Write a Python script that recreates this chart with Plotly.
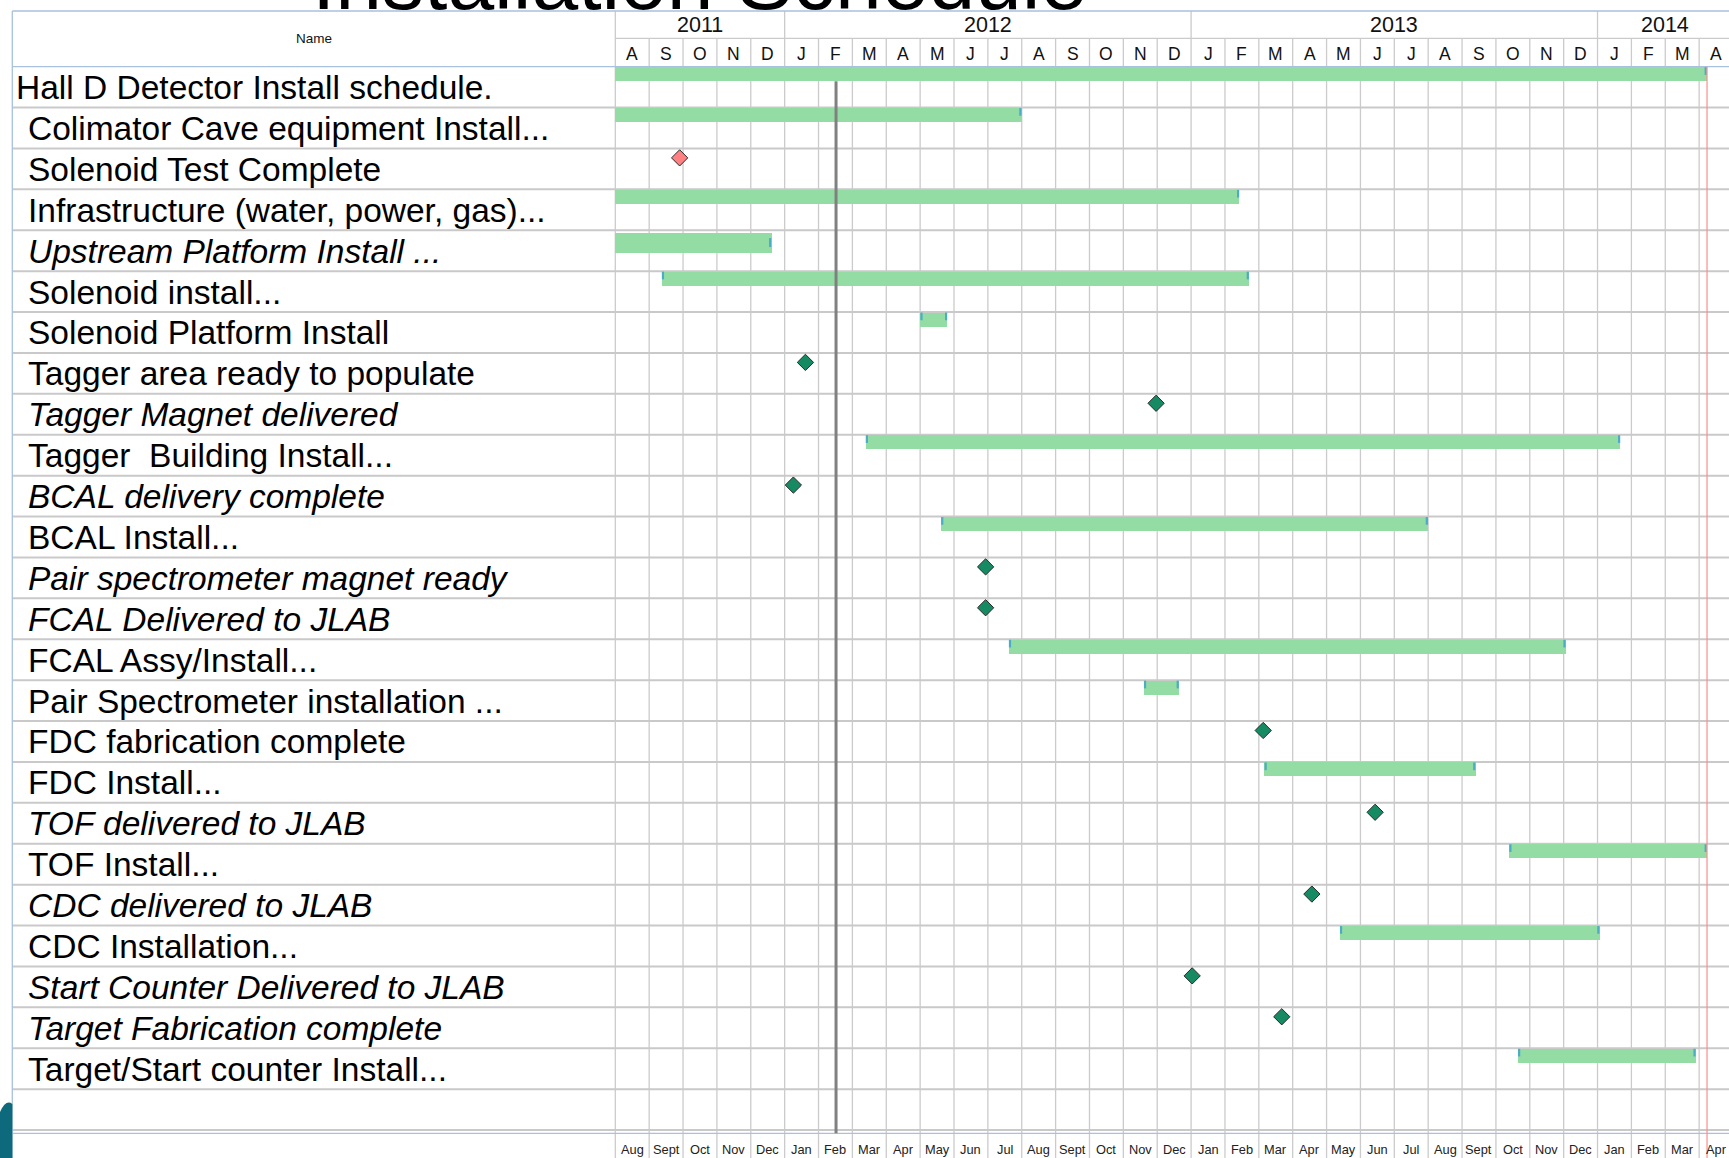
import calendar
import plotly.graph_objects as go

# ---------------- data ----------------
tasks = [
    "Hall D Detector Install schedule.",
    "Colimator Cave equipment Install...",
    "Solenoid Test Complete",
    "Infrastructure (water, power, gas)...",
    "Upstream Platform Install ...",
    "Solenoid install...",
    "Solenoid Platform Install",
    "Tagger area ready to populate",
    "Tagger Magnet delivered",
    "Tagger  Building Install...",
    "BCAL delivery complete",
    "BCAL Install...",
    "Pair spectrometer magnet ready",
    "FCAL Delivered to JLAB",
    "FCAL Assy/Install...",
    "Pair Spectrometer installation ...",
    "FDC fabrication complete",
    "FDC Install...",
    "TOF delivered to JLAB",
    "TOF Install...",
    "CDC delivered to JLAB",
    "CDC Installation...",
    "Start Counter Delivered to JLAB",
    "Target Fabrication complete",
    "Target/Start counter Install...",
]
outline_level = [0] + [1] * 24
italic_rows = [4, 8, 10, 12, 13, 18, 20, 22, 23]
kinds = ["bar", "bar", "milestone", "bar", "bar", "bar", "bar", "milestone", "milestone", "bar",
         "milestone", "bar", "milestone", "milestone", "bar", "bar", "milestone", "bar",
         "milestone", "bar", "milestone", "bar", "milestone", "milestone", "bar"]
starts = ["2011-08-01", "2011-08-01", "2011-09-28", "2011-08-01", "2011-08-01", "2011-09-12",
          "2012-05-01", "2012-01-20", "2012-11-30", "2012-03-13", "2012-01-09", "2012-05-20",
          "2012-06-29", "2012-06-29", "2012-07-20", "2012-11-19", "2013-03-05", "2013-03-06",
          "2013-06-14", "2013-10-13", "2013-04-18", "2013-05-13", "2013-01-02", "2013-03-22",
          "2013-10-21"]
ends = ["2014-04-08", "2012-08-01", None, "2013-02-13", "2011-12-20", "2013-02-21",
        "2012-05-26", None, None, "2014-01-22", None, "2013-08-01",
        None, None, "2013-12-03", "2012-12-21", None, "2013-09-13",
        None, "2014-04-08", None, "2014-01-03", None, None,
        "2014-03-29"]
late_milestones = [2]          # milestone drawn in red
today_date = "2012-02-16"       # grey progress line
status_date = "2014-04-08"      # red line

year_labels = ["2011", "2012", "2013", "2014"]
year_start_month = [0, 5, 17, 29]
year_end_month = [5, 17, 29, 33]
month_letters = ["A", "S", "O", "N", "D",
                 "J", "F", "M", "A", "M", "J", "J", "A", "S", "O", "N", "D",
                 "J", "F", "M", "A", "M", "J", "J", "A", "S", "O", "N", "D",
                 "J", "F", "M", "A"]
month_names = ["Aug", "Sept", "Oct", "Nov", "Dec",
               "Jan", "Feb", "Mar", "Apr", "May", "Jun", "Jul", "Aug", "Sept", "Oct", "Nov", "Dec",
               "Jan", "Feb", "Mar", "Apr", "May", "Jun", "Jul", "Aug", "Sept", "Oct", "Nov", "Dec",
               "Jan", "Feb", "Mar", "Apr"]
title_text = "Installation Schedule"


def to_m(date):
    y, mo, d = map(int, date.split("-"))
    return (y - 2011) * 12 + (mo - 8) + (d - 1) / calendar.monthrange(y, mo)[1]


# ---------------- geometry / style ----------------
W, H = 1729, 1158
PX0, COLW = 615.3, 33.87
ROW0, ROWH = 66.67, 40.9
FONT = "Liberation Sans, Arial, sans-serif"
GREEN = "#93dca3"
TICK = "#4bacc6"
GRID = "#cbcbcb"
BLUE = "#a8c1de"


def xp(px):
    return (px - PX0) / COLW


def yp(py):
    return (py - ROW0) / ROWH


XMIN, XMAX = xp(0), xp(W)
YTOP, YBOT = yp(0), yp(H)
Y_HDR_TOP = yp(11)
Y_HDR_MID = yp(38.3)
Y_TABLE_BOT = yp(1133.3)
X_LEFT = xp(12.3)
NROWS = len(tasks)

fig = go.Figure()

# grid: month columns
for m in range(len(month_letters)):
    fig.add_shape(type="line", x0=m, x1=m, y0=(Y_HDR_TOP if m in year_start_month or m == 0 else Y_HDR_MID),
                  y1=YBOT, line=dict(color=GRID, width=1.3), layer="below")
# header horizontal divider between years and months
fig.add_shape(type="line", x0=0, x1=XMAX, y0=Y_HDR_MID, y1=Y_HDR_MID,
              line=dict(color=GRID, width=1.3), layer="below")
# row lines
for r in range(1, NROWS + 2):
    fig.add_shape(type="line", x0=X_LEFT, x1=XMAX, y0=r, y1=r,
                  line=dict(color="#c9c9c9", width=2), layer="below")
# blue table borders
for yy in (Y_HDR_TOP, 0, Y_TABLE_BOT):
    fig.add_shape(type="line", x0=X_LEFT, x1=XMAX, y0=yy, y1=yy,
                  line=dict(color=BLUE, width=1.3), layer="below")
fig.add_shape(type="line", x0=X_LEFT, x1=X_LEFT, y0=Y_HDR_TOP, y1=YBOT,
              line=dict(color=BLUE, width=1.3), layer="below")

# bars
bar_rows = [i for i, k in enumerate(kinds) if k == "bar"]
thick_rows = [4]
bar_y, bar_w, bar_base, bar_len = [], [], [], []
tick_x, tick_y = [], []
for i in bar_rows:
    s, e = to_m(starts[i]), to_m(ends[i])
    if i in thick_rows:
        top, bot = i + 0.06, i + 0.555
        t0, t1 = i + 0.19, i + 0.41
    else:
        top, bot = i + 0.012, i + 0.355
        t0, t1 = i + 0.012, i + 0.2
    bar_y.append((top + bot) / 2)
    bar_w.append(bot - top)
    bar_base.append(s)
    bar_len.append(e - s)
    if s > 0.01:
        tick_x += [s + 0.04, s + 0.04, None]
        tick_y += [t0, t1, None]
    tick_x += [e - 0.04, e - 0.04, None]
    tick_y += [t0, t1, None]

fig.add_trace(go.Bar(orientation="h", y=bar_y, x=bar_len, base=bar_base, width=bar_w,
                     marker=dict(color=GREEN, line=dict(width=0)), hoverinfo="skip"))
fig.add_trace(go.Scatter(x=tick_x, y=tick_y, mode="lines",
                         line=dict(color=TICK, width=2.2), hoverinfo="skip"))

# milestones
ms_rows = [i for i, k in enumerate(kinds) if k == "milestone"]
fig.add_trace(go.Scatter(
    x=[to_m(starts[i]) for i in ms_rows],
    y=[i + 0.23 for i in ms_rows],
    mode="markers",
    marker=dict(symbol="diamond", size=12.5,
                color=["#ff8080" if i in late_milestones else "#168b63" for i in ms_rows],
                line=dict(color="#2a2a2a", width=1)),
    hoverinfo="skip"))

# progress and status lines
fig.add_shape(type="line", x0=to_m(today_date), x1=to_m(today_date), y0=yp(81.3), y1=Y_TABLE_BOT,
              line=dict(color="#808080", width=3), layer="above")
fig.add_shape(type="line", x0=to_m(status_date), x1=to_m(status_date), y0=0, y1=YBOT,
              line=dict(color="#ff8c8c", width=1.2), layer="above")

# bottom-left slide decoration
fig.add_shape(type="path", xref="paper", yref="paper",
              path=f"M 0,{1 - 1112 / H} Q {6 / W},{1 - 1099 / H} {12.3 / W},{1 - 1104 / H} "
                   f"L {12.3 / W},0 L 0,0 Z",
              fillcolor="#0c6a7c", line=dict(width=0), layer="above")

ann = []
# task labels
for i, name in enumerate(tasks):
    txt = f"<i>{name}</i>" if i in italic_rows else name
    ann.append(dict(x=xp(13.5 if outline_level[i] == 0 else 25.5), y=i + 0.51, text=txt,
                    xanchor="left", yanchor="middle", showarrow=False,
                    font=dict(family=FONT, size=33.5, color="#000000")))
# header texts
ann.append(dict(x=xp(313.5), y=yp(38.5), text="Name", showarrow=False, xanchor="center",
                yanchor="middle", font=dict(family=FONT, size=13.5, color="#111111")))
for lab, a, b in zip(year_labels, year_start_month, year_end_month):
    ann.append(dict(x=(a + b) / 2, y=yp(25.0), text=lab, showarrow=False, xanchor="center",
                    yanchor="middle", font=dict(family=FONT, size=21.5, color="#111111")))
for m, lab in enumerate(month_letters):
    ann.append(dict(x=m + 0.5, y=yp(53.5), text=lab, showarrow=False, xanchor="center",
                    yanchor="middle", font=dict(family=FONT, size=17.5, color="#111111")))
for m, lab in enumerate(month_names):
    ann.append(dict(x=m + 0.5, y=yp(1149.5), text=lab, showarrow=False, xanchor="center",
                    yanchor="middle", font=dict(family=FONT, size=12.8, color="#222222")))
# clipped slide title
ann.append(dict(x=699 / W, y=1 - 28.8 / H, xref="paper", yref="paper", text=title_text,
                showarrow=False, xanchor="center", yanchor="bottom",
                font=dict(family=FONT, size=84, color="#000000")))

fig.update_layout(
    width=W, height=H, margin=dict(l=0, r=0, t=0, b=0),
    paper_bgcolor="white", plot_bgcolor="white", showlegend=False,
    xaxis=dict(range=[XMIN, XMAX], visible=False, fixedrange=True),
    yaxis=dict(range=[YBOT, YTOP], visible=False, fixedrange=True),
    annotations=ann, bargap=0,
)

fig.write_html("out.html", config={"displayModeBar": False},
               post_script="document.body.style.margin='0';document.body.style.overflow='hidden';")
